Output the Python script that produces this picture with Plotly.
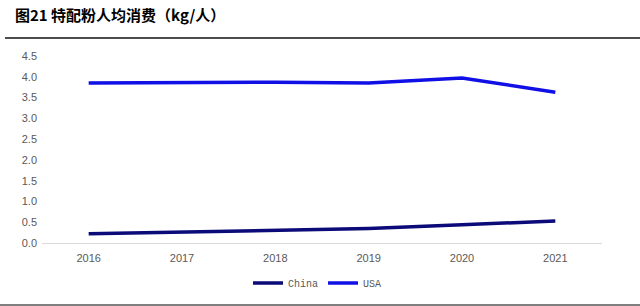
import plotly.graph_objects as go

years = ["2016", "2017", "2018", "2019", "2020", "2021"]
china = [0.22, 0.26, 0.30, 0.35, 0.44, 0.53]
usa = [3.85, 3.86, 3.87, 3.85, 3.97, 3.63]
y_ticks = [0.0, 0.5, 1.0, 1.5, 2.0, 2.5, 3.0, 3.5, 4.0, 4.5]

fig = go.Figure()
fig.add_trace(go.Scatter(x=years, y=china, name="China", mode="lines",
                         line=dict(color="#0a0a78", width=3.5)))
fig.add_trace(go.Scatter(x=years, y=usa, name="USA", mode="lines",
                         line=dict(color="#1010e6", width=3.5)))

W, H = 640, 306
l, r, t, b = 42, 38, 56, 63
ph = H - t - b
fig.update_layout(
    width=W, height=H,
    margin=dict(l=l, r=r, t=t, b=b, autoexpand=False),
    paper_bgcolor="white", plot_bgcolor="white",
    showlegend=True,
    legend=dict(orientation="h", x=0.492, xanchor="center", y=-(283 - (H - b)) / ph,
                yanchor="middle", yref="paper",
                font=dict(family="Liberation Mono, monospace", size=10, color="#595959"),
                itemwidth=30, tracegroupgap=0),
    xaxis=dict(type="category", range=[-0.5, 5.5], showgrid=False, automargin=False,
               showline=True, linecolor="#d9d9d9", linewidth=1, ticklabelstandoff=5,
               ticks="", tickfont=dict(family="Liberation Sans, Arial", size=11, color="#595959")),
    yaxis=dict(range=[0, 4.5], tickvals=y_ticks, ticktext=[f"{v:.1f}" for v in y_ticks],
               showgrid=False, zeroline=False, showline=False, ticks="", automargin=False,
               ticklabelstandoff=4,
               tickfont=dict(family="Liberation Sans, Arial", size=11, color="#595959")),
    title=dict(text="<b>图21 特配粉人均消费（kg/人）</b>", x=15/W, xanchor="left",
               y=1 - 16/H, yanchor="middle",
               font=dict(family="Noto Sans CJK SC", size=15, color="#000000")),
    shapes=[
        dict(type="line", xref="paper", yref="paper", x0=-(l-5)/(W-l-r), x1=(W-l)/(W-l-r),
             y0=1 + (t-38)/ph, y1=1 + (t-38)/ph,
             line=dict(color="#111111", width=1.5)),
        dict(type="line", xref="paper", yref="paper", x0=-l/(W-l-r), x1=(W-l)/(W-l-r),
             y0=-(305-(H-b))/ph, y1=-(305-(H-b))/ph,
             line=dict(color="#7f7f7f", width=2)),
    ],
)
fig.write_html("out.html")
